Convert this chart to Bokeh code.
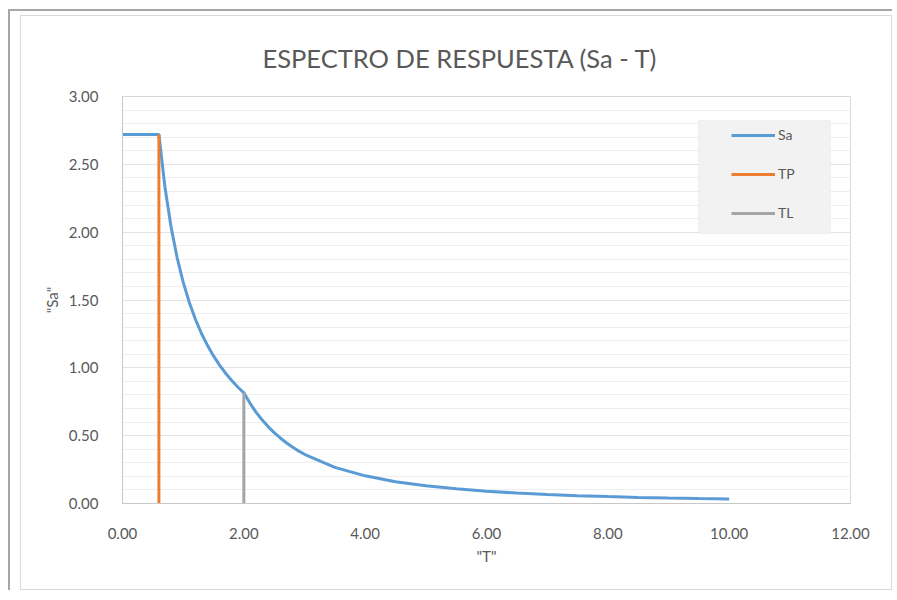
from bokeh.plotting import figure
from bokeh.layouts import column
from bokeh.models import (NumeralTickFormatter, FixedTicker, Legend, LegendItem,
                          BoxAnnotation, Range1d)
from bokeh.embed import file_html
from bokeh.resources import INLINE

# ---- data ----
T = [0.0, 0.6, 0.7, 0.8, 0.9, 1.0, 1.1, 1.2, 1.3, 1.4, 1.5, 1.6, 1.7, 1.8, 1.9, 2.0,
     2.1, 2.2, 2.3, 2.4, 2.5, 2.6, 2.7, 2.8, 2.9, 3.0,
     3.5, 4.0, 4.5, 5.0, 5.5, 6.0, 6.5, 7.0, 7.5, 8.0, 8.5, 9.0, 9.5, 10.0]
SA = [2.72, 2.72, 2.331, 2.040, 1.813, 1.632, 1.484, 1.360, 1.255, 1.166, 1.088, 1.020,
      0.960, 0.907, 0.859, 0.816,
      0.740, 0.674, 0.617, 0.567, 0.522, 0.483, 0.448, 0.416, 0.388, 0.363,
      0.266, 0.204, 0.161, 0.131, 0.108, 0.091, 0.077, 0.067, 0.058, 0.051,
      0.045, 0.040, 0.036, 0.033]
TP_T = [0.6, 0.6]
TP_SA = [0.0, 2.72]
TL_T = [2.0, 2.0]
TL_SA = [0.0, 0.816]
X_TICKS = [0, 2, 4, 6, 8, 10, 12]
Y_TICKS = [0.0, 0.5, 1.0, 1.5, 2.0, 2.5, 3.0]
Y_MINOR = [i / 10 for i in range(31)]
TITLE = "ESPECTRO DE RESPUESTA (Sa - T)"

FONT = "Lato"
TXT = "#595959"

p = figure(width=872, height=575, x_range=Range1d(0, 12), y_range=Range1d(0, 3),
           output_backend="svg", toolbar_location=None,
           min_border_left=101, min_border_right=43, min_border_top=79, min_border_bottom=88)
p.styles = {"border": "1px solid #d9d9d9"}

p.background_fill_color = "white"
p.border_fill_color = "white"
p.outline_line_color = "#d9d9d9"

# title
p.title.text = TITLE
p.title.align = "left"
p.title.offset = 140
p.title.standoff = 48
p.title.text_font = FONT
p.title.text_font_size = "25.5px"
p.title.text_font_style = "normal"
p.title.text_color = TXT

# legend background box (drawn first, behind legend)
box = BoxAnnotation(left=576, right=708, bottom=270, top=383,
                    left_units="screen", right_units="screen",
                    top_units="screen", bottom_units="screen",
                    fill_color="#f2f2f2", fill_alpha=1.0,
                    line_color="#d9d9d9", line_width=1)
p.add_layout(box)

sa = p.line(T, SA, color="#5B9BD5", line_width=3)
tp = p.line(TP_T, TP_SA, color="#ED7D31", line_width=3)
tl = p.line(TL_T, TL_SA, color="#A5A5A5", line_width=3)

# axes
for ax in (p.xaxis[0], p.yaxis[0]):
    ax.formatter = NumeralTickFormatter(format="0.00")
    ax.major_tick_line_color = None
    ax.minor_tick_line_color = None
    ax.axis_line_color = "#c8c8c8"
    ax.major_label_text_font = FONT
    ax.major_label_text_font_size = "15px"
    ax.major_label_text_color = TXT
    ax.axis_label_text_font = FONT
    ax.axis_label_text_font_size = "15px"
    ax.axis_label_text_font_style = "normal"
    ax.axis_label_text_color = TXT
p.xaxis.ticker = FixedTicker(ticks=X_TICKS)
p.yaxis.ticker = FixedTicker(ticks=Y_TICKS, minor_ticks=Y_MINOR)
p.xaxis.axis_label = '"T"'
p.yaxis.axis_label = '"Sa"'
p.xaxis.major_label_standoff = 18
p.yaxis.major_label_standoff = 18
p.xaxis.axis_label_standoff = 5
p.yaxis.axis_label_standoff = 5

p.xgrid.visible = False
p.ygrid.grid_line_color = "#e2e2e2"
p.ygrid.minor_grid_line_color = "#eeeeee"

legend = Legend(items=[LegendItem(label="Sa", renderers=[sa]),
                       LegendItem(label="TP", renderers=[tp]),
                       LegendItem(label="TL", renderers=[tl])],
                location=(609, 282), padding=0, spacing=22,
                glyph_height=14, label_height=14, glyph_width=44, label_standoff=3,
                background_fill_alpha=0, border_line_alpha=0,
                label_text_font=FONT, label_text_font_size="14px", label_text_color=TXT)
p.add_layout(legend)

layout = column(p, styles={"border-top": "2px solid #a6a6a6",
                           "border-left": "2px solid #a6a6a6",
                           "margin-left": "8px", "margin-top": "9px",
                           "padding-top": "4px", "padding-left": "10px"})

open("out.html", "w").write(file_html(layout, INLINE))
